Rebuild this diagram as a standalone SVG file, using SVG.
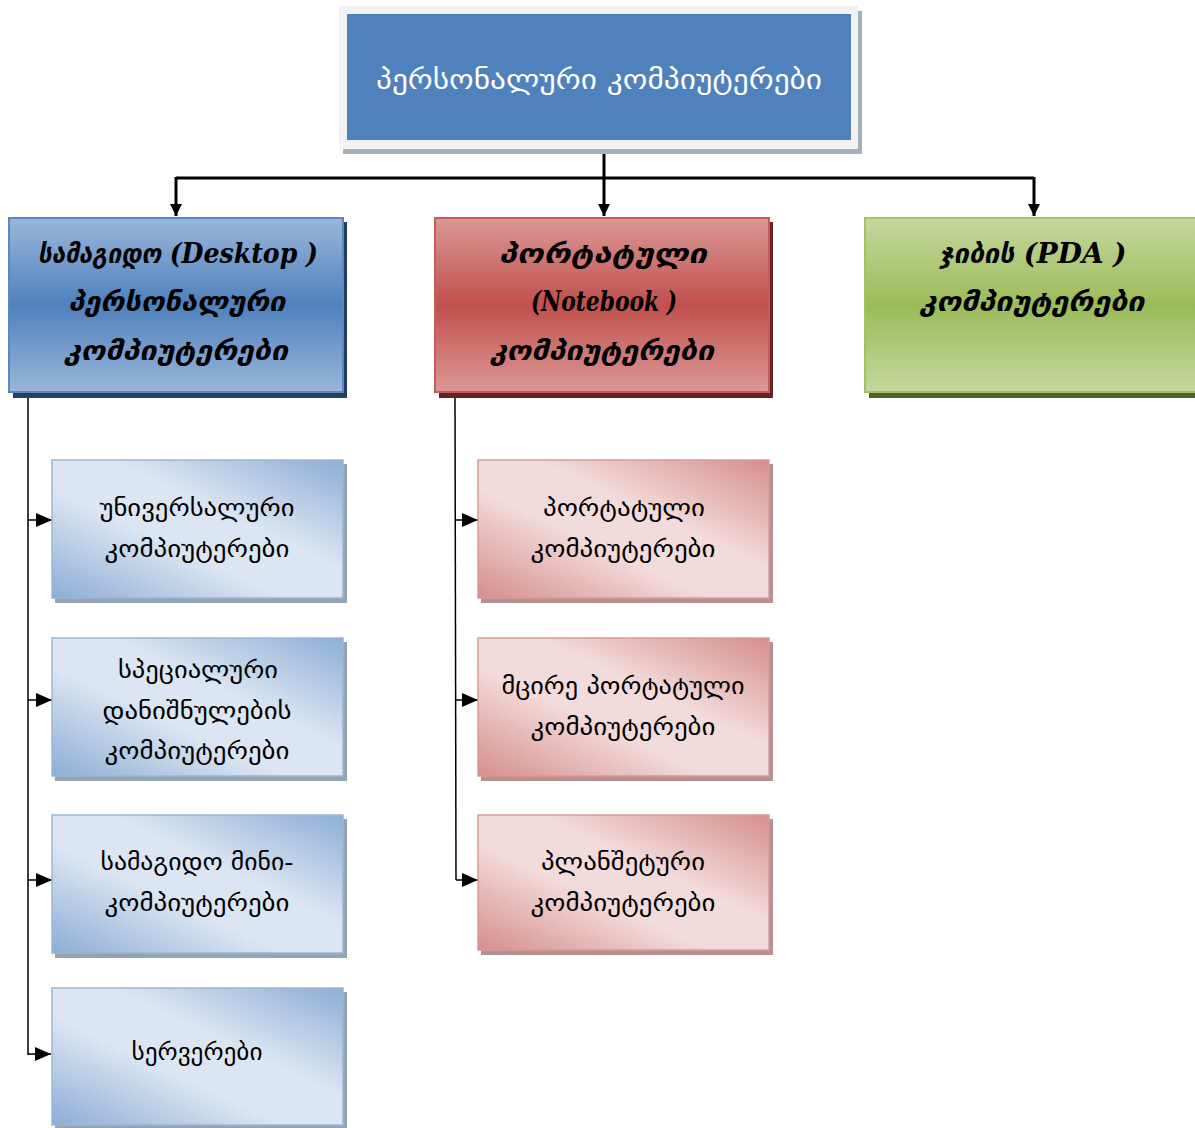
<svg xmlns="http://www.w3.org/2000/svg" width="1195" height="1128" viewBox="0 0 1195 1128">
<defs>
<linearGradient id="gBlueV" x1="0" y1="0" x2="0" y2="1">
<stop offset="0" stop-color="#9ab6da"/><stop offset="0.5" stop-color="#4f81bd"/><stop offset="1" stop-color="#9ab6da"/>
</linearGradient>
<linearGradient id="gRedV" x1="0" y1="0" x2="0" y2="1">
<stop offset="0" stop-color="#db9896"/><stop offset="0.5" stop-color="#c0504d"/><stop offset="1" stop-color="#db9896"/>
</linearGradient>
<linearGradient id="gGreenV" x1="0" y1="0" x2="0" y2="1">
<stop offset="0" stop-color="#c5d89e"/><stop offset="0.5" stop-color="#9bbb59"/><stop offset="1" stop-color="#c5d89e"/>
</linearGradient>
<linearGradient id="gBlueD" x1="0" y1="1" x2="1" y2="0">
<stop offset="0" stop-color="#8eadd5"/><stop offset="0.4" stop-color="#dce6f2"/><stop offset="0.6" stop-color="#dce6f2"/><stop offset="1" stop-color="#8eadd5"/>
</linearGradient>
<linearGradient id="gRedD" x1="0" y1="1" x2="1" y2="0">
<stop offset="0" stop-color="#d68e8c"/><stop offset="0.4" stop-color="#f2dcdb"/><stop offset="0.6" stop-color="#f2dcdb"/><stop offset="1" stop-color="#d68e8c"/>
</linearGradient>
<marker id="arrS" viewBox="0 0 10 10" refX="10" refY="5" markerWidth="16" markerHeight="14" markerUnits="userSpaceOnUse" orient="auto" preserveAspectRatio="none">
<path d="M0,0 L10,5 L0,10 z" fill="#000"/>
</marker>
<marker id="arrD" viewBox="0 0 10 10" refX="10" refY="5" markerWidth="12" markerHeight="12" markerUnits="userSpaceOnUse" orient="auto" preserveAspectRatio="none">
<path d="M0,0 L10,5 L0,10 z" fill="#000"/>
</marker>
</defs>
<style>
.geo{font-family:"DejaVu Sans","Noto Sans",sans-serif;text-anchor:middle;}
.title{font-size:28px;fill:#fff;}
.cat{font-size:27px;font-weight:bold;font-style:italic;fill:#000;}
.lat{font-family:"DejaVu Serif","Liberation Serif",serif;font-size:28px;font-weight:bold;font-style:italic;}
.sub{font-size:23px;fill:#000;}
.conn{fill:none;stroke:#000;}
</style>

<g id="connectors">
<path class="conn" stroke-width="3" d="M604,150 V178"/>
<path class="conn" stroke-width="3" d="M176,178 H1034"/>
<path class="conn" stroke-width="3" d="M176,177 V216" marker-end="url(#arrD)"/>
<path class="conn" stroke-width="3" d="M604,177 V216" marker-end="url(#arrD)"/>
<path class="conn" stroke-width="3" d="M1034,177 V216" marker-end="url(#arrD)"/>
<path class="conn" stroke-width="1.5" d="M28,393 V1055"/>
<path class="conn" stroke-width="1.5" d="M28,520 H52" marker-end="url(#arrS)"/>
<path class="conn" stroke-width="1.5" d="M28,700 H52" marker-end="url(#arrS)"/>
<path class="conn" stroke-width="1.5" d="M28,880 H52" marker-end="url(#arrS)"/>
<path class="conn" stroke-width="1.5" d="M28,1054 H51" marker-end="url(#arrS)"/>
<path class="conn" stroke-width="1.5" d="M455,397 L456,880"/>
<path class="conn" stroke-width="1.5" d="M455,520 H478" marker-end="url(#arrS)"/>
<path class="conn" stroke-width="1.5" d="M455,700 H478" marker-end="url(#arrS)"/>
<path class="conn" stroke-width="1.5" d="M456,880 H478" marker-end="url(#arrS)"/>
</g>

<g id="root">
<rect x="343" y="11" width="519" height="143" fill="#a6b0bd"/>
<rect x="339" y="6" width="519" height="143" fill="#f2f2f2"/>
<rect x="347" y="14" width="504" height="126" fill="#4f81bd"/>
<text class="geo title" x="599" y="89" textLength="446" lengthAdjust="spacingAndGlyphs">პერსონალური კომპიუტერები</text>
</g>

<g id="desktop">
<rect x="13" y="222" width="334" height="176" fill="#25405f"/>
<rect x="9" y="218" width="334" height="174" fill="url(#gBlueV)" stroke="#5a88c0" stroke-width="2"/>
<text class="geo cat" x="178" y="263" textLength="280" lengthAdjust="spacingAndGlyphs">სამაგიდო <tspan class="lat">(Desktop )</tspan></text>
<text class="geo cat" x="177" y="311" textLength="217" lengthAdjust="spacingAndGlyphs">პერსონალური</text>
<text class="geo cat" x="176" y="360" textLength="224" lengthAdjust="spacingAndGlyphs">კომპიუტერები</text>
</g>

<g id="notebook">
<rect x="439" y="222" width="334" height="176" fill="#632523"/>
<rect x="435" y="218" width="334" height="174" fill="url(#gRedV)" stroke="#c85a57" stroke-width="2"/>
<text class="geo cat" x="603" y="263" textLength="208" lengthAdjust="spacingAndGlyphs">პორტატული</text>
<text class="geo cat lat" x="604" y="311" textLength="146" lengthAdjust="spacingAndGlyphs">(Notebook )</text>
<text class="geo cat" x="602" y="360" textLength="224" lengthAdjust="spacingAndGlyphs">კომპიუტერები</text>
</g>

<g id="pda">
<rect x="869" y="222" width="330" height="176" fill="#4f6228"/>
<rect x="865" y="218" width="334" height="174" fill="url(#gGreenV)" stroke="#a3c264" stroke-width="2"/>
<text class="geo cat" x="1033" y="263" textLength="187" lengthAdjust="spacingAndGlyphs">ჯიბის <tspan class="lat">(PDA )</tspan></text>
<text class="geo cat" x="1032" y="311" textLength="225" lengthAdjust="spacingAndGlyphs">კომპიუტერები</text>
</g>

<g id="universal">
<rect x="55" y="464" width="292" height="139" fill="#96a3b3"/>
<rect x="52" y="460" width="291" height="138" fill="url(#gBlueD)" stroke="#9ab6d8" stroke-width="1.5"/>
<text class="geo sub" x="197" y="516" textLength="195" lengthAdjust="spacingAndGlyphs">უნივერსალური</text>
<text class="geo sub" x="197" y="557" textLength="185" lengthAdjust="spacingAndGlyphs">კომპიუტერები</text>
</g>

<g id="special">
<rect x="55" y="642" width="292" height="139" fill="#96a3b3"/>
<rect x="52" y="638" width="291" height="138" fill="url(#gBlueD)" stroke="#9ab6d8" stroke-width="1.5"/>
<text class="geo sub" x="198" y="678" textLength="160" lengthAdjust="spacingAndGlyphs">სპეციალური</text>
<text class="geo sub" x="197" y="719" textLength="189" lengthAdjust="spacingAndGlyphs">დანიშნულების</text>
<text class="geo sub" x="197" y="759" textLength="185" lengthAdjust="spacingAndGlyphs">კომპიუტერები</text>
</g>

<g id="minicomp">
<rect x="55" y="819" width="292" height="139" fill="#96a3b3"/>
<rect x="52" y="815" width="291" height="138" fill="url(#gBlueD)" stroke="#9ab6d8" stroke-width="1.5"/>
<text class="geo sub" x="197" y="870" textLength="193" lengthAdjust="spacingAndGlyphs">სამაგიდო მინი-</text>
<text class="geo sub" x="197" y="911" textLength="185" lengthAdjust="spacingAndGlyphs">კომპიუტერები</text>
</g>

<g id="servers">
<rect x="55" y="992" width="292" height="137" fill="#96a3b3"/>
<rect x="52" y="988" width="291" height="137" fill="url(#gBlueD)" stroke="#9ab6d8" stroke-width="1.5"/>
<text class="geo sub" x="197" y="1060" textLength="131" lengthAdjust="spacingAndGlyphs">სერვერები</text>
</g>

<g id="portable">
<rect x="481" y="464" width="292" height="139" fill="#b89090"/>
<rect x="478" y="460" width="291" height="138" fill="url(#gRedD)" stroke="#d99a98" stroke-width="1.5"/>
<text class="geo sub" x="624" y="516" textLength="162" lengthAdjust="spacingAndGlyphs">პორტატული</text>
<text class="geo sub" x="623" y="557" textLength="185" lengthAdjust="spacingAndGlyphs">კომპიუტერები</text>
</g>

<g id="smallportable">
<rect x="481" y="642" width="292" height="139" fill="#b89090"/>
<rect x="478" y="638" width="291" height="138" fill="url(#gRedD)" stroke="#d99a98" stroke-width="1.5"/>
<text class="geo sub" x="623" y="694" textLength="243" lengthAdjust="spacingAndGlyphs">მცირე პორტატული</text>
<text class="geo sub" x="623" y="735" textLength="185" lengthAdjust="spacingAndGlyphs">კომპიუტერები</text>
</g>

<g id="tablet">
<rect x="481" y="819" width="292" height="136" fill="#b89090"/>
<rect x="478" y="815" width="291" height="135" fill="url(#gRedD)" stroke="#d99a98" stroke-width="1.5"/>
<text class="geo sub" x="623" y="870" textLength="164" lengthAdjust="spacingAndGlyphs">პლანშეტური</text>
<text class="geo sub" x="623" y="911" textLength="185" lengthAdjust="spacingAndGlyphs">კომპიუტერები</text>
</g>
</svg>
